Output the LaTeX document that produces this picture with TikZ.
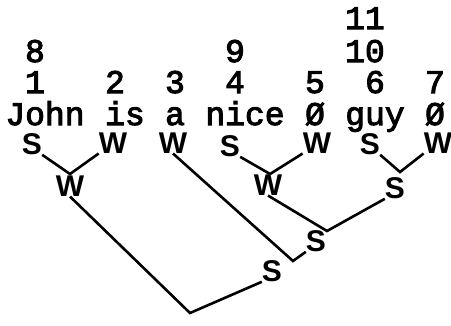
\documentclass[tikz,border=0pt]{standalone}
\usepackage{fontspec}
\setmonofont{Liberation Mono}[BoldFont={Liberation Mono}, BoldFeatures={FakeBold=3}]
\newfontfamily\handfont{Liberation Sans}
\begin{document}
\begin{tikzpicture}[x=1pt, y=-1pt,
    word/.style={font=\ttfamily\bfseries\fontsize{33}{33}\selectfont, anchor=base, inner sep=0pt},
    lab/.style={font=\handfont\bfseries\fontsize{30}{30}\selectfont, inner sep=0pt},
    edge/.style={line width=2.6pt}]
    \useasboundingbox (0,0) rectangle (451,325);

    % Woerter
    \node[word] (john) at (45, 125) {John};
    \node[word] (is)   at (125, 125) {is};
    \node[word] (a)    at (175, 125) {a};
    \node[word] (nice) at (245, 125) {nice};
    \node[word] (nullA) at (315, 125) {Ø};
    \node[word] (guy)  at (375, 125) {guy};
    \node[word] (nullB) at (435, 125) {Ø};

    % Nummern
    \node[word] (n1) at (35, 93) {1};
    \node[word] (n2) at (115, 93) {2};
    \node[word] (n3) at (175, 93) {3};
    \node[word] (n4) at (235, 93) {4};
    \node[word] (n5) at (315, 93) {5};
    \node[word] (n6) at (375, 93) {6};
    \node[word] (n7) at (435, 93) {7};
    \node[word] (n8) at (35, 62) {8};
    \node[word] (n9) at (235, 62) {9};
    \node[word] (n10) at (365, 62) {10};
    \node[word] (n11) at (365, 29) {11};

    % S/W unter den Woertern
    \node[lab] (s1) at (32, 144) {S};
    \node[lab] (w2) at (113, 143) {W};
    \node[lab] (w3) at (173, 143) {W};
    \node[lab] (s4) at (230, 146) {S};
    \node[lab] (w5) at (317, 143) {W};
    \node[lab] (s6) at (370, 144) {S};
    \node[lab] (w7) at (438, 143) {W};

    % Knoten im Baum
    \coordinate (j12) at (70, 174);
    \coordinate (j45) at (270, 174);
    \coordinate (j67) at (400, 172);
    \coordinate (j4567) at (327, 231);
    \coordinate (j3) at (293, 261);
    \coordinate (root) at (190, 313);
    \node[lab] (w12) at (70, 186) {W};
    \node[lab] (w45) at (268, 185) {W};
    \node[lab] (s67) at (395, 188) {S};
    \node[lab] (s4567) at (316, 241) {S};
    \node[lab] (s34567) at (272, 271) {S};

    % Aeste
    \draw[edge] (s1.south east) -- (j12) -- (w2.south west);
    \draw[edge] (s4.south east) -- (j45) -- (w5.south west);
    \draw[edge] (s6.south east) -- (j67) -- (w7.south west);
    \draw[edge] (w45.south) -- (j4567) -- (s67.south west);
    \draw[edge] (w3.south) -- (j3) -- (s4567.south west);
    \draw[edge] (w12.south) -- (root) -- (s34567.south west);

\end{tikzpicture}
\end{document}
